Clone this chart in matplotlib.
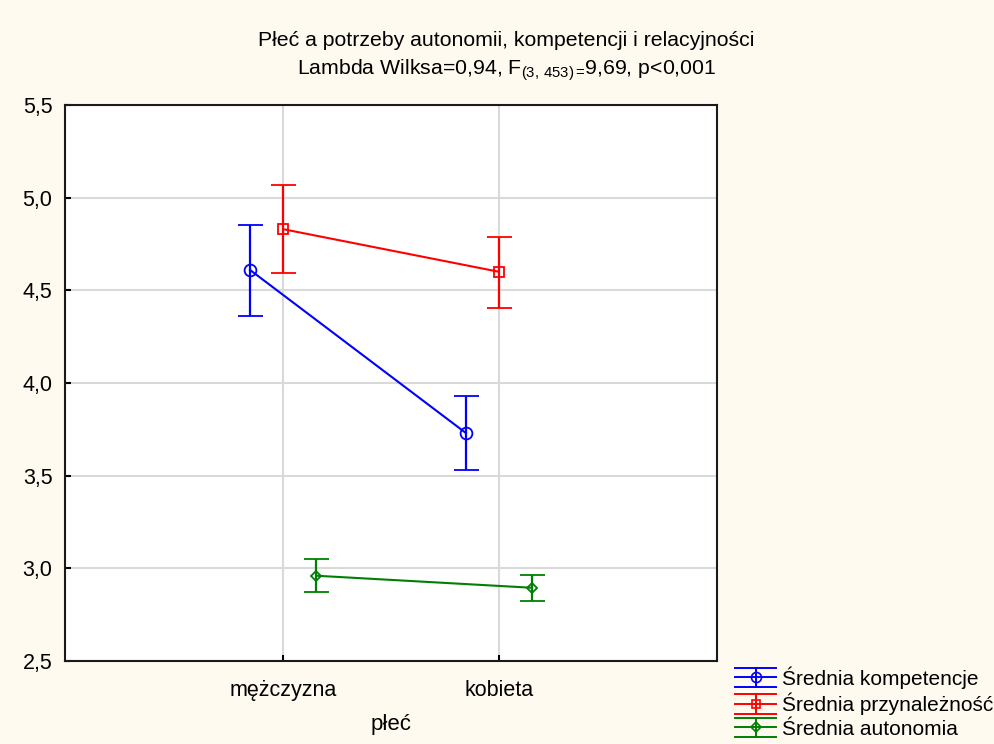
import numpy as np
import matplotlib
matplotlib.use('Agg')
import matplotlib.pyplot as plt
from matplotlib.legend_handler import HandlerBase
from matplotlib.lines import Line2D

plt.rcParams['font.family'] = ['Liberation Sans', 'DejaVu Sans']
plt.rcParams['mathtext.fontset'] = 'custom'
plt.rcParams['mathtext.rm'] = 'Liberation Sans'

categories = ['mężczyzna', 'kobieta']
series = ['Średnia kompetencje', 'Średnia przynależność', 'Średnia autonomia']
means = {
    'Średnia kompetencje': [4.61, 3.73],
    'Średnia przynależność': [4.83, 4.60],
    'Średnia autonomia': [2.96, 2.895],
}
lower = {
    'Średnia kompetencje': [4.36, 3.53],
    'Średnia przynależność': [4.595, 4.405],
    'Średnia autonomia': [2.87, 2.825],
}
upper = {
    'Średnia kompetencje': [4.855, 3.93],
    'Średnia przynależność': [5.07, 4.79],
    'Średnia autonomia': [3.048, 2.966],
}
colors = ['#0000FF', '#FF0000', '#008000']
markers = ['o', 's', 'D']
msizes = [8.5, 7.5, 5.5]
offsets = [-0.153, 0.0, 0.153]


class ErrHandle(HandlerBase):
    # legend glyph: horizontal line + marker, whisker, full-width caps
    def create_artists(self, legend, orig, xd, yd, w, h, fontsize, trans):
        c = orig.get_color()
        yc = h / 2 - yd
        x0, x1 = -xd, -xd + w
        xm = (x0 + x1) / 2
        hh = h * 0.66
        arts = [
            Line2D([x0, x1], [yc, yc], color=c, lw=1.4),
            Line2D([xm, xm], [yc - hh, yc + hh], color=c, lw=1.4),
            Line2D([x0, x1], [yc - hh, yc - hh], color=c, lw=1.4),
            Line2D([x0, x1], [yc + hh, yc + hh], color=c, lw=1.4),
            Line2D([xm], [yc], marker=orig.get_marker(), ms=orig.get_markersize() * 0.85,
                   mfc='none', mec=c, mew=1.2, ls='none'),
        ]
        for a in arts:
            a.set_transform(trans)
        return arts


fig = plt.figure(figsize=(9.95, 7.44), dpi=100, facecolor='#FFFAF0')
ax = fig.add_axes([0.0653, 0.1116, 0.6553, 0.7473])
ax.set_facecolor('white')

x = np.arange(len(categories))
handles = []
for name, c, m, ms, off in zip(series, colors, markers, msizes, offsets):
    y = np.array(means[name])
    lo = y - np.array(lower[name])
    hi = np.array(upper[name]) - y
    ax.errorbar(x + off, y, yerr=[lo, hi], color=c, marker=m, ms=ms,
                mfc='none', mec=c, mew=1.3, lw=1.5, elinewidth=1.6,
                capsize=9, capthick=1.6, zorder=3)
    handles.append(Line2D([], [], color=c, marker=m, ms=ms, label=name))

ax.set_xlim(-1.01, 2.01)
ax.set_ylim(2.5, 5.5)
ax.set_xticks(x)
ax.set_xticklabels(categories)
yt = np.arange(2.5, 5.51, 0.5)
ax.set_yticks(yt)
ax.set_yticklabels([f'{v:.1f}'.replace('.', ',') for v in yt])
ax.tick_params(direction='in', length=4, width=1.5, labelsize=15.5)
ax.tick_params(axis='x', pad=14)
ax.tick_params(axis='y', pad=9)
ax.grid(True, color='#D9D9D9', lw=1.5, zorder=0)
ax.set_axisbelow(True)
for s in ax.spines.values():
    s.set_linewidth(1.5)
    s.set_color('#1A1A1A')
ax.set_xlabel('płeć', fontsize=16, labelpad=9)

fig.text(0.509, 0.946, 'Płeć a potrzeby autonomii, kompetencji i relacyjności',
         ha='center', va='center', fontsize=15.3)
fig.text(0.509, 0.906,
         r'Lambda Wilksa=0,94, F$_{\mathregular{(3{,}\ 453){=}}}\!$9,69, p<0,001',
         ha='center', va='center', fontsize=15.3)

fig.legend(handles=handles, loc='lower right', bbox_to_anchor=(1.011, -0.0095),
           frameon=False, fontsize=15, handlelength=1.95, handletextpad=0.3,
           labelspacing=0.2, borderaxespad=0.2,
           handler_map={Line2D: ErrHandle()})

fig.savefig('out.png', dpi=100, facecolor=fig.get_facecolor())
